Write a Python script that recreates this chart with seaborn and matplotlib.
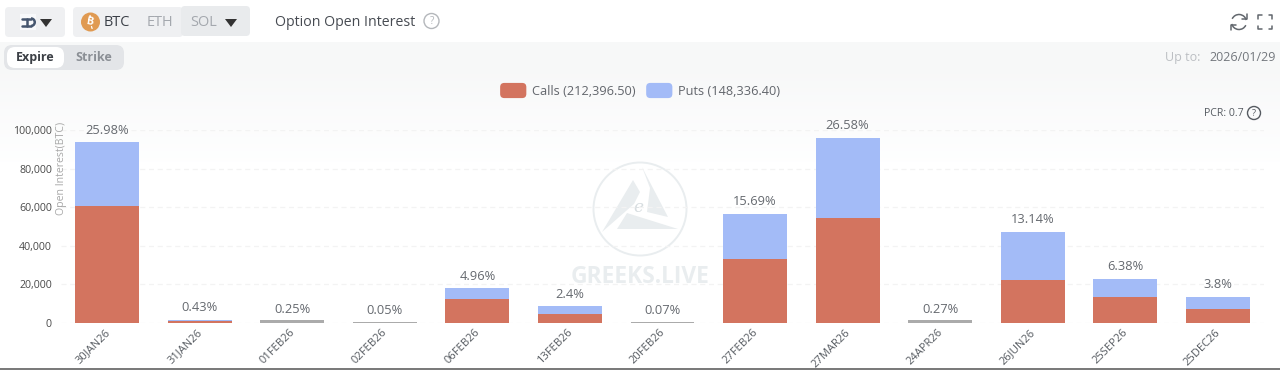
import numpy as np
import pandas as pd
import matplotlib
matplotlib.use("Agg")
import matplotlib.pyplot as plt
from matplotlib.patches import FancyBboxPatch, Circle, Polygon, Rectangle, Arc, Patch
from matplotlib.legend_handler import HandlerPatch
from matplotlib.transforms import ScaledTranslation
import seaborn as sns

expiries = ["30JAN26", "31JAN26", "01FEB26", "02FEB26", "06FEB26", "13FEB26", "20FEB26",
            "27FEB26", "27MAR26", "24APR26", "26JUN26", "25SEP26", "25DEC26"]
calls = [60600, 1100, 500, 100, 12200, 4900, 130, 33000, 54500, 500, 22300, 13400, 7000]
puts = [33100, 450, 400, 80, 5700, 3750, 120, 23600, 41400, 470, 25100, 9600, 6700]
floor = [0, 0, 1700, 400, 0, 0, 600, 0, 0, 1700, 0, 0, 0]
share_labels = ["25.98%", "0.43%", "0.25%", "0.05%", "4.96%", "2.4%", "0.07%",
                "15.69%", "26.58%", "0.27%", "13.14%", "6.38%", "3.8%"]
y_ticks = [0, 20000, 40000, 60000, 80000, 100000]
legend_labels = ["Calls (212,396.50)", "Puts (148,336.40)"]

W, H = 1280, 370
RED, BLUE = "#d3745f", "#a3bbf7"
sns.set_theme(style="white")
plt.rcParams["font.family"] = ["Open Sans", "DejaVu Sans"]

fig = plt.figure(figsize=(W / 100, H / 100), dpi=100, facecolor="white")

# page furniture, in pixel coordinates
bg = fig.add_axes([0, 0, 1, 1], zorder=0)
bg.set_xlim(0, W); bg.set_ylim(H, 0); bg.axis("off")
grad = np.concatenate([np.full(30, 0.975), np.linspace(0.975, 1.0, 90)])[:, None]
bg.imshow(np.dstack([grad * 0.997, grad * 0.999, grad]), extent=[0, W, 162, 42], aspect="auto",
          interpolation="bilinear", zorder=0)
bg.set_xlim(0, W); bg.set_ylim(H, 0)
bg.add_patch(Rectangle((0, 367.6), W, 2.4, color="#7b7b7b", lw=0))

def pill(x0, y0, x1, y1, c, r=4, z=1):
    bg.add_patch(FancyBboxPatch((x0 + r, y0 + r), x1 - x0 - 2 * r, y1 - y0 - 2 * r,
                                boxstyle=f"round,pad={r},rounding_size={r}", fc=c, ec="none", zorder=z))

def tri(cx, cy, c="#333333", w=6, h=4):
    bg.add_patch(Polygon([(cx - w, cy - h), (cx + w, cy - h), (cx, cy + h)], fc=c, ec="none", zorder=3))

def label(x, y, s, c, size, ha="left", **kw):
    bg.text(x, y, s, color=c, fontsize=size * 0.72, ha=ha, va="center", zorder=4, **kw)

def stroke(xs, ys, c, lw=1.2):
    bg.plot(xs, ys, color=c, lw=lw, zorder=4, solid_capstyle="round")

pill(5, 7, 65, 37, "#eff0f2")
pill(73, 7, 183, 37, "#eff0f2")
pill(181, 6, 250, 36, "#e9ebed")
bg.add_patch(Rectangle((20, 14), 16, 16, fc="#f8f9fb", ec="none", zorder=2))
# coin selector glyph (a bitcoin sign lying on its side)
stroke([22, 31], [18.5, 18.5], "#46566f", 1.8)
stroke([22, 31], [26, 26], "#46566f", 1.8)
stroke([26.5, 26.5], [18.5, 26], "#46566f", 1.8)
bg.add_patch(Arc((31, 22.2), 7.5, 7.5, theta1=-90, theta2=90, ec="#46566f", lw=1.8, zorder=4))
tri(46, 23)
tri(231, 23)
bg.add_patch(Circle((90.5, 22), 9.5, fc="#e09a52", ec="none", zorder=3))
label(90.5, 22, "B", "white", 11, ha="center", fontweight="bold", rotation=-10)
stroke([90, 90.6], [15.5, 17.5], "white", 0.9)
stroke([91.5, 92.1], [26.5, 28.5], "white", 0.9)
label(104, 22, "BTC", "#3a3f47", 14.5)
label(147, 22, "ETH", "#a4a8ae", 14.5)
label(190, 22, "SOL", "#a4a8ae", 14.5)
label(275, 22, "Option Open Interest", "#474b52", 14.1)
bg.add_patch(Circle((431.5, 21), 7.5, fc="none", ec="#b4b7bb", lw=1, zorder=3))
label(431.5, 21, "?", "#b4b7bb", 10, ha="center")

# refresh and fullscreen icons
ICON = "#62676d"
bg.add_patch(Arc((1239, 22), 15, 15, theta1=25, theta2=165, ec=ICON, lw=1.1, zorder=3))
bg.add_patch(Arc((1239, 22), 15, 15, theta1=205, theta2=345, ec=ICON, lw=1.1, zorder=3))
stroke([1242, 1247, 1247], [19, 19, 14], ICON, 1.1)
stroke([1231, 1231, 1236], [30, 25, 25], ICON, 1.1)
for sx, sy in [(1258, 15), (1272, 15), (1258, 29), (1272, 29)]:
    dx = 3.5 if sx == 1258 else -3.5
    dy = 3.5 if sy == 15 else -3.5
    stroke([sx + dx, sx, sx], [sy, sy, sy + dy], ICON, 1.1)

pill(4, 45, 124, 70, "#e3e5e8", r=8)
pill(7, 47, 64, 68, "#ffffff", r=8, z=2)
label(35.5, 57.5, "Expire", "#3c4046", 12.5, ha="center", fontweight="bold")
label(94, 57.5, "Strike", "#8b8f95", 12.5, ha="center", fontweight="bold")
label(1165, 57.5, "Up to:", "#bcbfc3", 12.5)
label(1209, 57.5, "2026/01/29", "#73777d", 12.5)
label(1204, 114, "PCR: 0.7", "#555a60", 10.5)
bg.add_patch(Circle((1254, 113), 6.5, fc="none", ec="#555a60", lw=1, zorder=3))
label(1254, 113, "?", "#555a60", 9, ha="center")

# watermark
WM = "#e9edef"
bg.add_patch(Circle((640, 209), 46.5, fc="none", ec=WM, lw=1.4, zorder=1))
bg.add_patch(Polygon([(602, 232), (633, 180), (640, 192), (634, 204)], fc=WM, ec="none", zorder=1))
bg.add_patch(Polygon([(642, 167), (668, 217), (647, 212), (650, 188)], fc=WM, ec="none", zorder=1))
bg.add_patch(Polygon([(617, 229), (627, 213), (678, 229)], fc=WM, ec="none", zorder=1))
label(638, 208, "e", "#d7dde0", 17, ha="center", style="italic", family="DejaVu Serif")
bg.text(640, 277, "GREEKS.LIVE", color=WM, fontsize=16.4, fontweight="bold", ha="center", va="center", zorder=1)

# chart area: x band 61..1264, y 0 at 323, 100000 at 130
ax = fig.add_axes([61 / W, 1 - 323 / H, (1264 - 61) / W, 193 / H], zorder=2)
ax.patch.set_alpha(0)
df = pd.DataFrame({"expiry": expiries, "calls": calls, "puts": puts, "floor": floor})
bar_kw = dict(width=0.69, saturation=1, ax=ax, errorbar=None, linewidth=0, edgecolor="none")
sns.barplot(data=df, x="expiry", y="calls", color=RED, zorder=4, **bar_kw)
sns.barplot(data=df, x="expiry", y="puts", bottom=df["calls"], color=BLUE, zorder=4, **bar_kw)
sns.barplot(data=df, x="expiry", y="floor", color="#ababab", zorder=5, **bar_kw)

ax.set_xlim(-0.5, len(expiries) - 0.5)
ax.set_ylim(0, 100000)
ax.set_yticks(y_ticks)
ax.set_yticklabels([f"{v:,}" for v in y_ticks], fontsize=7.7, color="#4a4a4a")
ax.set_xlabel("")
ax.set_ylabel("Open Interest(BTC)", fontsize=7.6, color="#a8a8a8")
ax.yaxis.set_label_coords(0.0052, 0.80)
ax.tick_params(axis="y", length=0, pad=6.5)
ax.tick_params(axis="x", length=0, pad=3)
ax.set_xticks(range(len(expiries)))
ax.set_xticklabels(expiries, rotation=45, ha="right", rotation_mode="anchor", fontsize=8, color="#555a60")
shift = ScaledTranslation(-3 / 100, 0, fig.dpi_scale_trans)
for lbl in ax.get_xticklabels():
    lbl.set_transform(lbl.get_transform() + shift)
ax.yaxis.grid(True, color="#f3f3f3", lw=0.9, ls=(0, (4, 3)), zorder=1)
ax.xaxis.grid(False)
for s in ax.spines.values():
    s.set_visible(False)

for i, txt in enumerate(share_labels):
    ax.annotate(txt, (i, calls[i] + puts[i]), xytext=(0, 4.0), textcoords="offset points", ha="center", va="bottom",
                fontsize=9.3, color="#65696f", zorder=6, clip_on=False)


class RoundHandler(HandlerPatch):
    def create_artists(self, legend, orig, xd, yd, width, height, fontsize, trans):
        p = FancyBboxPatch((-xd + 3, -yd + 3), width - 6, height - 6, boxstyle="round,pad=3,rounding_size=3",
                           fc=orig.get_facecolor(), ec="none", transform=trans)
        return [p]


handles = [Patch(fc=RED, label=legend_labels[0]), Patch(fc=BLUE, label=legend_labels[1])]
leg = fig.legend(handles=handles, loc="center", bbox_to_anchor=(640 / W, 1 - 90.5 / H), ncol=2, frameon=False,
                 fontsize=9.2, handlelength=2.05, handleheight=1.45, handletextpad=0.42, columnspacing=0.85,
                 labelcolor="#62666c", handler_map={Patch: RoundHandler()}, borderpad=0)
leg.set_zorder(5)

fig.savefig("out.png", dpi=100, facecolor="white")
